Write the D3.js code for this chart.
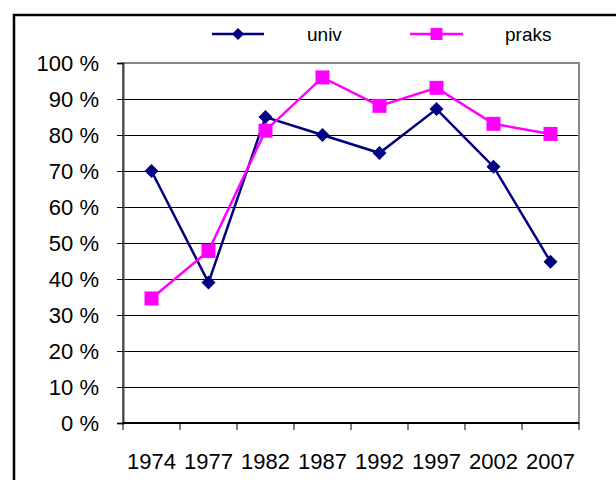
<!DOCTYPE html>
<html lang="en">
<head>
  <meta charset="UTF-8">
  <title>univ / praks</title>
  <style>
    body { margin: 0; background: #fff; }
    svg text { font-family: "Liberation Sans", Arial, sans-serif; fill: #000; }
  </style>
</head>
<body>
  <div class="chart"></div>

  <script src="https://cdnjs.cloudflare.com/ajax/libs/d3/7.8.5/d3.min.js"></script>
  <script>
    // data
    const years = ['1974', '1977', '1982', '1987', '1992', '1997', '2002', '2007'];
    const univ = [70, 39, 85, 80, 75, 87.2, 71.2, 44.8];
    const praks = [34.6, 47.8, 81.2, 96, 88.1, 93.1, 83.1, 80.3];
    const yTicks = [0, 10, 20, 30, 40, 50, 60, 70, 80, 90, 100];

    const width = 616, height = 480;
    const plot = { left: 123, right: 579, top: 63, bottom: 423 };

    const svg = d3.select('.chart')
      .append('svg')
      .attr('width', width)
      .attr('height', height);

    // outer frame (runs off the page right and bottom)
    svg.append('rect')
      .attr('x', 14)
      .attr('y', 15)
      .attr('width', 640)
      .attr('height', 500)
      .style('fill', 'none')
      .style('stroke', '#000')
      .style('stroke-width', 2.5);

    const x = d3.scaleBand()
      .domain(years)
      .range([plot.left, plot.right])
      .padding(0);

    const y = d3.scaleLinear()
      .domain([0, 100])
      .range([plot.bottom, plot.top]);

    // gridlines
    svg.append('g')
      .selectAll('line')
      .data(yTicks.filter(d => d > 0 && d < 100))
      .join('line')
      .attr('x1', plot.left)
      .attr('x2', plot.right)
      .attr('y1', d => y(d) + 0.5)
      .attr('y2', d => y(d) + 0.5)
      .style('stroke', '#000')
      .style('stroke-width', 1);

    // plot area border
    svg.append('rect')
      .attr('x', plot.left)
      .attr('y', plot.top)
      .attr('width', plot.right - plot.left)
      .attr('height', plot.bottom - plot.top)
      .style('fill', 'none')
      .style('stroke', '#888')
      .style('stroke-width', 2);

    // y axis
    const yAxis = svg.append('g')
      .attr('transform', 'translate(' + plot.left + ',0)')
      .call(d3.axisLeft(y).tickValues(yTicks).tickSize(6).tickPadding(18)
        .tickFormat(d => d + ' %'));
    yAxis.select('.domain').style('stroke', '#444').style('stroke-width', 2);
    yAxis.selectAll('.tick line').style('stroke', '#000');
    yAxis.selectAll('.tick text')
      .style('font-size', '22px')
      .style('font-family', '"Liberation Sans", Arial, sans-serif');

    // x axis: ticks between categories
    svg.append('line')
      .attr('x1', plot.left)
      .attr('x2', plot.right)
      .attr('y1', plot.bottom)
      .attr('y2', plot.bottom)
      .style('stroke', '#000')
      .style('stroke-width', 2);

    const bounds = years.map(d => x(d)).concat([x(years[years.length - 1]) + x.bandwidth()]);
    svg.append('g')
      .selectAll('line')
      .data(bounds)
      .join('line')
      .attr('x1', d => d)
      .attr('x2', d => d)
      .attr('y1', plot.bottom)
      .attr('y2', plot.bottom + 7)
      .style('stroke', '#000')
      .style('stroke-width', 1);

    svg.append('g')
      .selectAll('text')
      .data(years)
      .join('text')
      .attr('x', d => x(d) + x.bandwidth() / 2)
      .attr('y', 469)
      .attr('text-anchor', 'middle')
      .style('font-size', '22px')
      .text(d => d);

    const cx = d => x(d) + x.bandwidth() / 2;
    const line = d3.line()
      .x((d, i) => cx(years[i]))
      .y(d => y(d));

    // univ series: navy with diamonds
    svg.append('path')
      .datum(univ)
      .attr('d', line)
      .style('fill', 'none')
      .style('stroke', '#000080')
      .style('stroke-width', 2.5);

    const diamond = 'M0,-7L7,0L0,7L-7,0Z';
    svg.append('g')
      .selectAll('path')
      .data(univ)
      .join('path')
      .attr('transform', (d, i) => 'translate(' + cx(years[i]) + ',' + y(d) + ')')
      .attr('d', diamond)
      .style('fill', '#000080');

    // praks series: magenta with squares
    svg.append('path')
      .datum(praks)
      .attr('d', line)
      .style('fill', 'none')
      .style('stroke', '#ff00ff')
      .style('stroke-width', 2.5);

    svg.append('g')
      .selectAll('rect')
      .data(praks)
      .join('rect')
      .attr('x', (d, i) => cx(years[i]) - 7)
      .attr('y', d => y(d) - 7)
      .attr('width', 14)
      .attr('height', 14)
      .style('fill', '#ff00ff');

    // legend
    const legend = [
      { name: 'univ', color: '#000080', x1: 212, x2: 264, tx: 307, shape: 'diamond' },
      { name: 'praks', color: '#ff00ff', x1: 410, x2: 463, tx: 505, shape: 'square' }
    ];
    const lg = svg.append('g').selectAll('g').data(legend).join('g');
    lg.append('line')
      .attr('x1', d => d.x1)
      .attr('x2', d => d.x2)
      .attr('y1', 34)
      .attr('y2', 34)
      .style('stroke', d => d.color)
      .style('stroke-width', 2.5);
    lg.filter(d => d.shape === 'diamond').append('path')
      .attr('transform', d => 'translate(' + (d.x1 + d.x2) / 2 + ',34)')
      .attr('d', 'M0,-6L6,0L0,6L-6,0Z')
      .style('fill', d => d.color);
    lg.filter(d => d.shape === 'square').append('rect')
      .attr('x', d => (d.x1 + d.x2) / 2 - 6)
      .attr('y', 28)
      .attr('width', 12)
      .attr('height', 12)
      .style('fill', d => d.color);
    lg.append('text')
      .attr('x', d => d.tx)
      .attr('y', 41)
      .style('font-size', '19px')
      .text(d => d.name);
  </script>
</body>
</html>
